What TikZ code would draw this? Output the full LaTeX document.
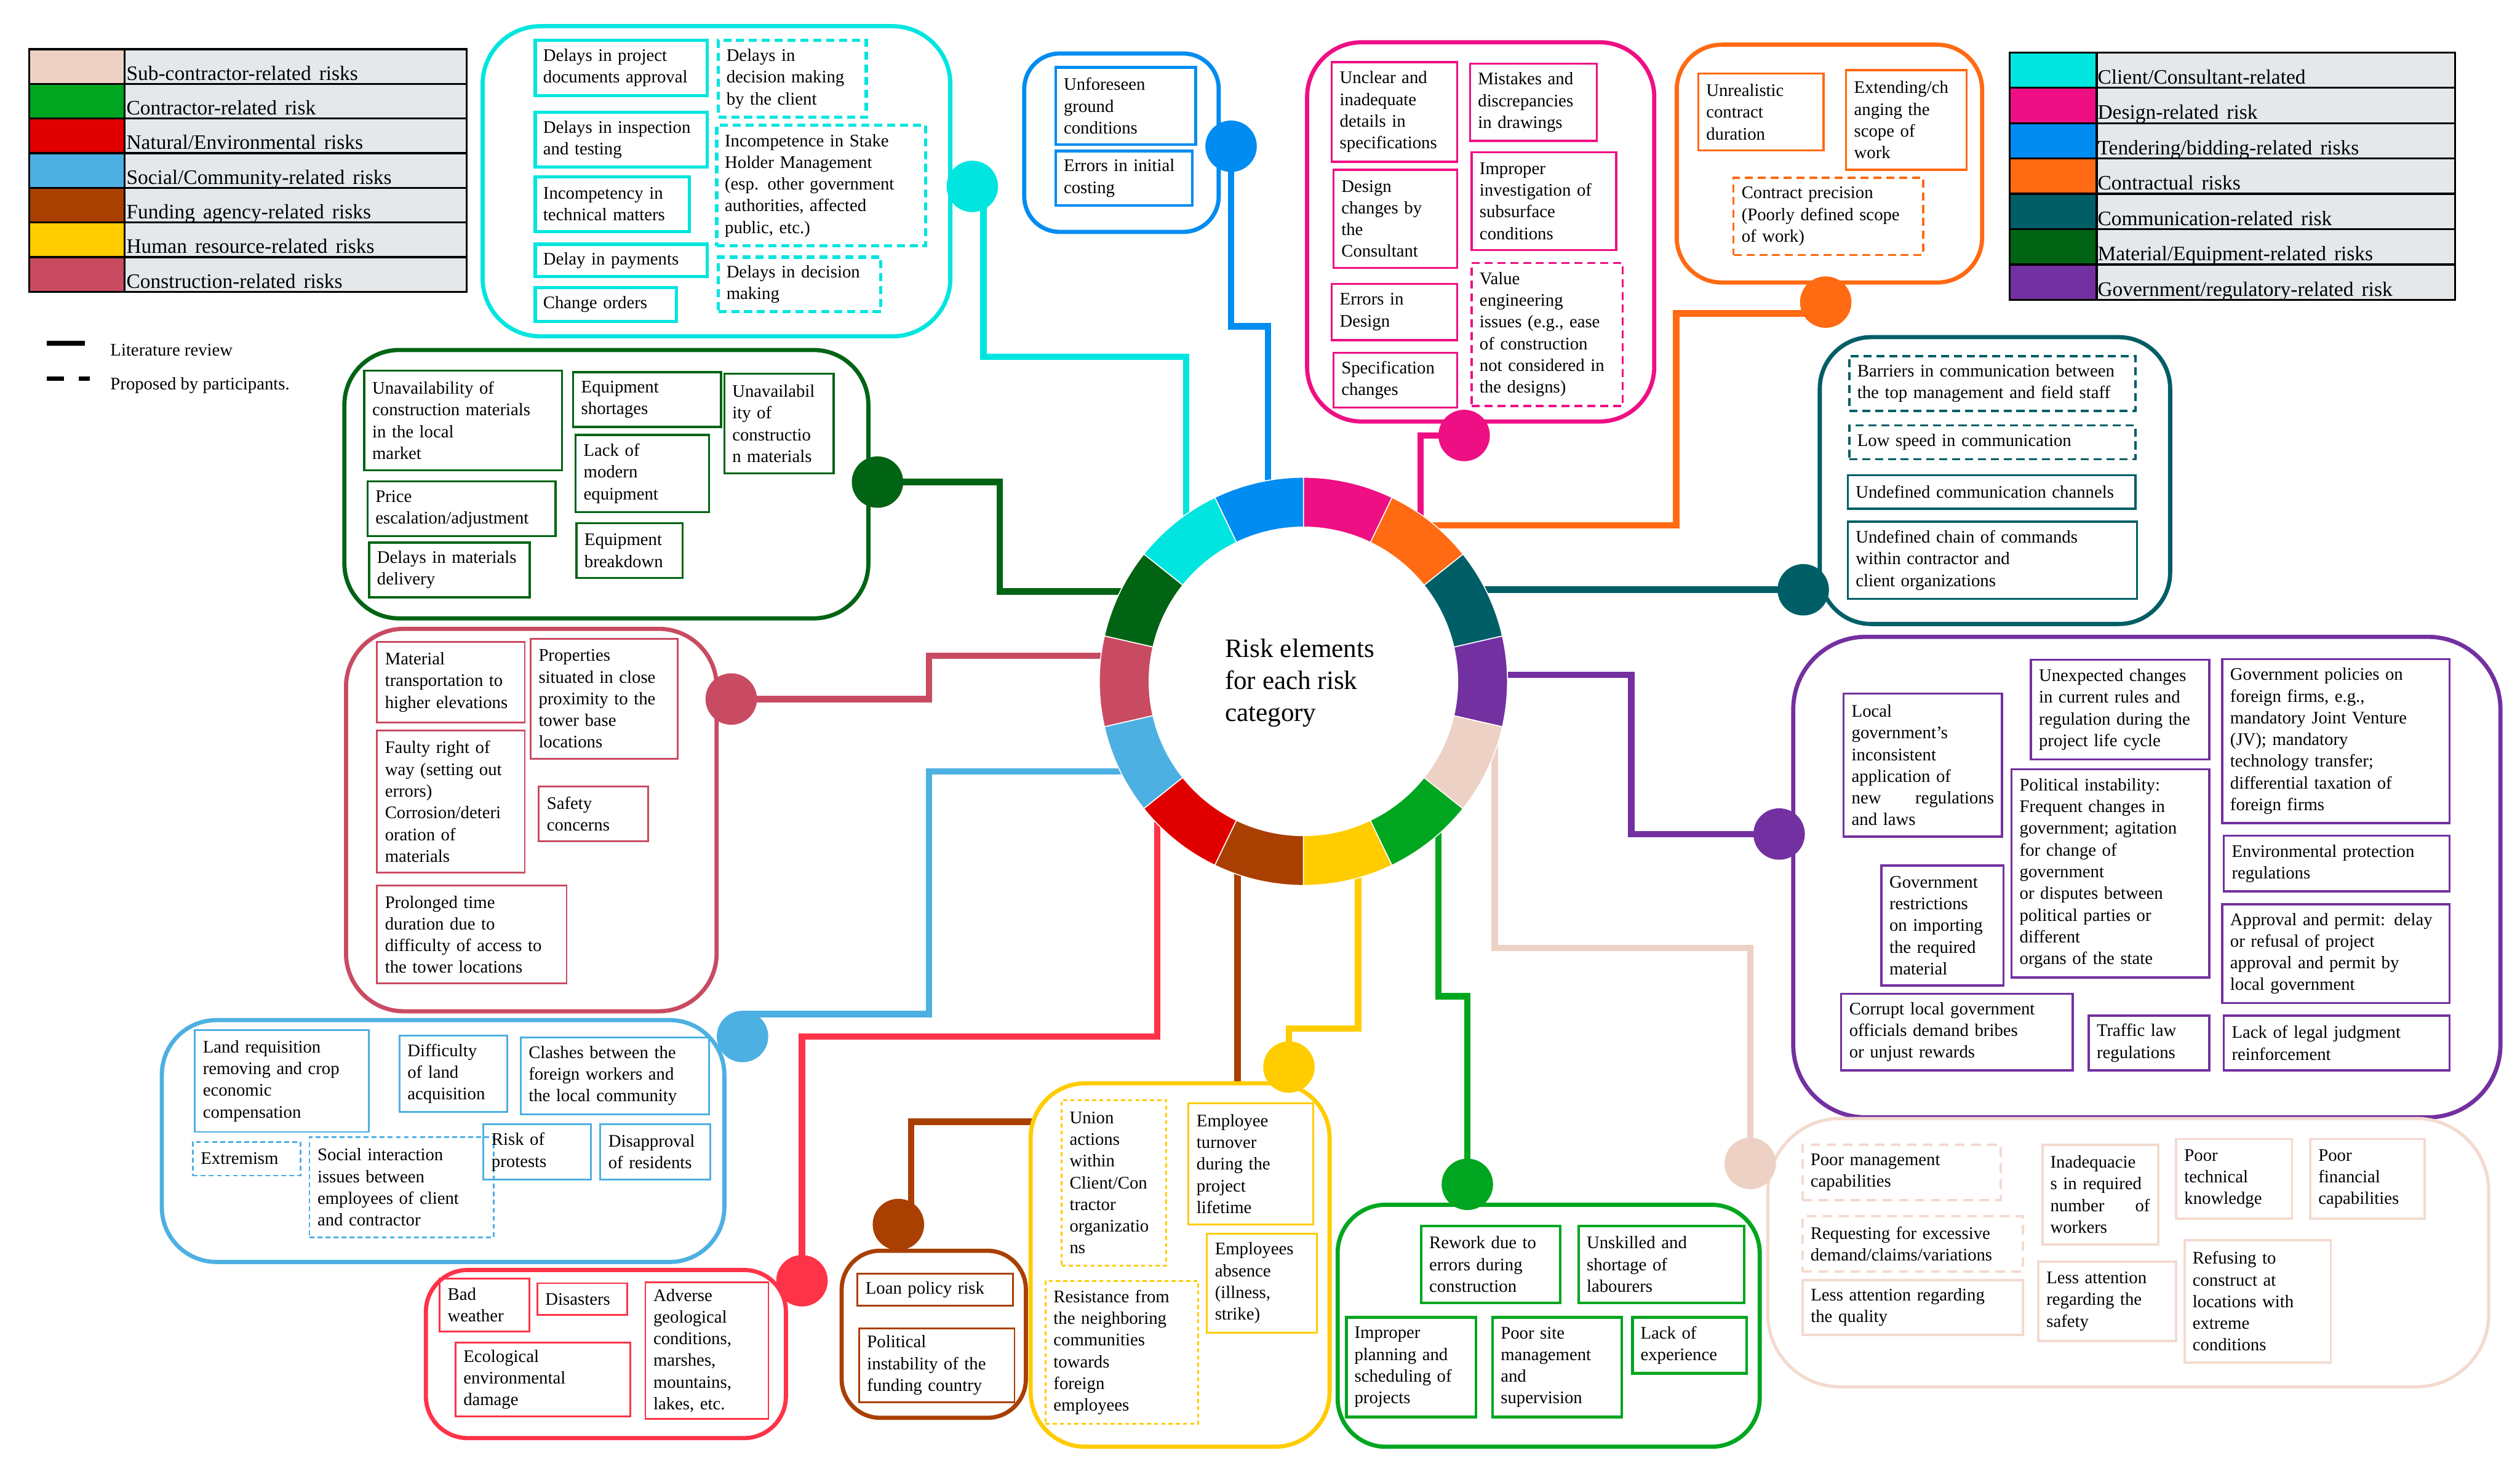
\documentclass[tikz,border=0pt]{standalone}
\usepackage{fontspec}
\setmainfont{Liberation Serif}
\usepackage{tikz}
\usetikzlibrary{calc, backgrounds}

\definecolor{clientc}{HTML}{00E5DF}
\definecolor{designc}{HTML}{EE0F84}
\definecolor{tenderc}{HTML}{008CF0}
\definecolor{contractc}{HTML}{FF6A13}
\definecolor{commc}{HTML}{005E66}
\definecolor{materialc}{HTML}{006414}
\definecolor{govc}{HTML}{7330A0}
\definecolor{subc}{HTML}{EDD1C4}
\definecolor{subline}{HTML}{F3DACF}
\definecolor{contrc}{HTML}{00A620}
\definecolor{natc}{HTML}{E10000}
\definecolor{natline}{HTML}{FF3347}
\definecolor{socialc}{HTML}{4DB0E3}
\definecolor{fundc}{HTML}{A93F00}
\definecolor{humanc}{HTML}{FFCC00}
\definecolor{constrc}{HTML}{C94B62}
\definecolor{leggray}{HTML}{E5E8EB}

\newcommand{\itemfont}{\fontsize{11}{13.5}\selectfont\hyphenpenalty=10000\exhyphenpenalty=10000}
\newcommand{\legfont}{\fontsize{12.8}{15}\selectfont\spaceskip=5pt plus 1pt minus 1pt}

\begin{document}
\begin{tikzpicture}[x=1pt, y=-1pt,
  grp/.style={draw=#1, fill=white, line width=2.6pt, rounded corners=34pt, anchor=north west, inner sep=0pt},
  item/.style={draw=#1, line width=1.3pt, anchor=north west, align=left, font=\itemfont,
               inner xsep=5pt, inner ysep=1pt},
  prop/.style={item=#1, dash pattern=on 5pt off 3pt},
  dot/.style={circle, fill=#1, inner sep=0pt, minimum size=32pt},
  link/.style={draw=#1, line width=4pt},
  swatch/.style={draw=black, line width=1.2pt, fill=#1, anchor=north west, inner sep=0pt},
  lcell/.style={draw=black, line width=1.2pt, fill=leggray, anchor=north west, inner sep=0pt},
  legtext/.style={anchor=base west, font=\legfont, inner sep=0pt},
]
\useasboundingbox (0,0) rectangle (1568,914);

%% Legends
\foreach \col/\txt [count=\i from 0] in {subc/{Sub-contractor-related risks}, contrc/{Contractor-related risk},
    natc/{Natural/Environmental risks}, socialc/{Social/Community-related risks},
    fundc/{Funding agency-related risks}, humanc/{Human resource-related risks},
    constrc/{Construction-related risks}}{
  \node[swatch=\col, minimum width=59.5pt, minimum height=21.57pt] (lsw\i) at (17.5,{30+21.57*\i}) {};
  \node[lcell, minimum width=212.6pt, minimum height=21.57pt] (lce\i) at (77,{30+21.57*\i}) {};
  \node[legtext] at ($(lce\i.south west)+(1.5,-3)$) {\txt};
}
\foreach \col/\txt [count=\i from 0] in {clientc/{Client/Consultant-related}, designc/{Design-related risk},
    tenderc/{Tendering/bidding-related risks}, contractc/{Contractual risks},
    commc/{Communication-related risk}, materialc/{Material/Equipment-related risks},
    govc/{Government/regulatory-related risk}}{
  \node[swatch=\col, minimum width=54pt, minimum height=22pt] (rsw\i) at (1250,{32+22*\i}) {};
  \node[lcell, minimum width=223pt, minimum height=22pt] (rce\i) at (1304,{32+22*\i}) {};
  \node[legtext] at ($(rce\i.south west)+(1,-3)$) {\txt};
}
\node[anchor=west, font=\fontsize{11}{13}\selectfont, inner sep=0pt] (litrev) at (68.5,218) {Literature review};
\node[anchor=west, font=\fontsize{11}{13}\selectfont, inner sep=0pt] (partic) at (68.5,240) {Proposed by participants.};
\draw[line width=3pt] ($(litrev.west)+(-39.5,-4.4)$) -- ++(24,0);
\draw[line width=3pt, dash pattern=on 11pt off 9pt] ($(partic.west)+(-39.5,-4.4)$) -- ++(27,0);

%% Client/Consultant-related
\node[grp=clientc, minimum width=291pt, minimum height=193pt, rounded corners=36pt] (clgrp) at (299,15) {};
\node[item=clientc, line width=2pt, text width=97pt, minimum height=34.5pt] (cl1) at (332,24) {Delays in project\\documents approval};
\node[prop=clientc, line width=2pt, text width=82pt, minimum height=48pt] (cl2) at (446,24) {Delays in\\decision making\\by the client};
\node[item=clientc, line width=2pt, text width=97pt, minimum height=34pt] (cl3) at (332,69) {Delays in inspection\\and testing};
\node[prop=clientc, line width=2pt, text width=120pt, minimum height=75pt] (cl4) at (445,77) {Incompetence in Stake\\Holder Management\\(esp. other government\\authorities, affected\\public, etc.)};
\node[item=clientc, line width=2pt, text width=86pt, minimum height=34pt] (cl5) at (332,109) {Incompetency in\\technical matters};
\node[item=clientc, line width=2pt, text width=97pt, minimum height=20pt] (cl6) at (332,151) {Delay in payments};
\node[item=clientc, line width=2pt, text width=78pt, minimum height=21pt] (cl7) at (332,178) {Change orders};
\node[prop=clientc, line width=2pt, text width=91pt, minimum height=34pt] (cl8) at (446,159) {Delays in decision\\making};

%% Tendering/bidding-related
\node[grp=tenderc, minimum width=121pt, minimum height=111pt, rounded corners=22pt] (tdgrp) at (636,32) {};
\node[item=tenderc, line width=1.8pt, text width=77pt, minimum height=48pt] (td1) at (656,41) {Unforeseen\\ground\\conditions};
\node[item=tenderc, line width=1.8pt, text width=75pt, minimum height=34pt] (td2) at (656,93) {Errors in initial\\costing};

%% Design-related
\node[grp=designc, minimum width=216pt, minimum height=236pt] (dsgrp) at (812,25) {};
\node[item=designc, text width=68pt, minimum height=62pt] (ds1) at (828,38) {Unclear and\\inadequate\\details in\\specifications};
\node[item=designc, text width=69pt, minimum height=48pt] (ds2) at (914,39) {Mistakes and\\discrepancies\\in drawings};
\node[item=designc, text width=67pt, minimum height=61pt] (ds3) at (829,105) {Design\\changes by\\the\\Consultant};
\node[item=designc, text width=80pt, minimum height=61pt] (ds4) at (915,94) {Improper\\investigation of\\subsurface\\conditions};
\node[item=designc, text width=68pt, minimum height=35pt] (ds5) at (828,176) {Errors in\\Design};
\node[prop=designc, text width=84pt, minimum height=89pt] (ds6) at (915,163) {Value\\engineering\\issues (e.g., ease\\of construction\\not considered in\\the designs)};
\node[item=designc, text width=67pt, minimum height=34pt] (ds7) at (829,219) {Specification\\changes};

%% Contractual
\node[grp=contractc, minimum width=190pt, minimum height=148pt, rounded corners=28pt] (ctgrp) at (1042,26.5) {};
\node[item=contractc, text width=68pt, minimum height=48pt] (ct1) at (1056,45) {Unrealistic\\contract\\duration};
\node[item=contractc, text width=65pt, minimum height=62pt] (ct2) at (1148,43) {Extending/ch\\anging the\\scope of\\work};
\node[prop=contractc, text width=108pt, minimum height=48pt] (ct3) at (1078,110) {Contract precision\\(Poorly defined scope\\of work)};

%% Communication-related
\node[grp=commc, minimum width=218pt, minimum height=178.5pt, rounded corners=32pt] (cmgrp) at (1131,208.5) {};
\node[prop=commc, text width=168pt, minimum height=34pt] (cm1) at (1150,221) {Barriers in communication between\\the top management and field staff};
\node[prop=commc, text width=168pt, minimum height=21pt] (cm2) at (1150,264) {Low speed in communication};
\node[item=commc, text width=169pt, minimum height=21pt] (cm3) at (1149,295) {Undefined communication channels};
\node[item=commc, text width=170pt, minimum height=48pt] (cm4) at (1149,324) {Undefined chain of commands\\within contractor and\\client organizations};

%% Material/Equipment-related
\node[grp=materialc, minimum width=326pt, minimum height=167pt] (mtgrp) at (213,216.5) {};
\node[item=materialc, text width=113pt, minimum height=62pt] (mt1) at (226,230) {Unavailability of\\construction materials\\in the local\\market};
\node[item=materialc, text width=82pt, minimum height=34pt] (mt2) at (356,231) {Equipment\\shortages};
\node[item=materialc, text width=58pt, minimum height=62pt] (mt3) at (450,232) {Unavailabil\\ity of\\constructio\\n materials};
\node[item=materialc, text width=107pt, minimum height=34pt] (mt4) at (228,299) {Price\\escalation/adjustment};
\node[item=materialc, text width=73pt, minimum height=48pt] (mt5) at (357.5,270) {Lack of\\modern\\equipment};
\node[item=materialc, text width=90pt, minimum height=34pt] (mt6) at (229,337) {Delays in materials\\delivery};
\node[item=materialc, text width=56pt, minimum height=34pt] (mt7) at (358,325) {Equipment\\breakdown};

%% Construction-related
\node[grp=constrc, minimum width=230.6pt, minimum height=238pt, rounded corners=36pt] (csgrp) at (214,390) {};
\node[item=constrc, line width=1.1pt, text width=82pt, minimum height=50pt] (cs1) at (234,399) {Material\\transportation to\\higher elevations};
\node[item=constrc, line width=1.1pt, text width=81.4pt, minimum height=74.6pt] (cs2) at (329.6,397) {Properties\\situated in close\\proximity to the\\tower base\\locations};
\node[item=constrc, line width=1.1pt, text width=82pt, minimum height=88.6pt] (cs3) at (234,454) {Faulty right of\\way (setting out\\errors)\\Corrosion/deteri\\oration of\\materials};
\node[item=constrc, line width=1.1pt, text width=58pt, minimum height=34pt] (cs4) at (334.7,489) {Safety\\concerns};
\node[item=constrc, line width=1.1pt, text width=108pt, minimum height=61pt] (cs5) at (234,550.5) {Prolonged time\\duration due to\\difficulty of access to\\the tower locations};

%% Government/regulatory-related
\node[grp=govc, minimum width=440pt, minimum height=299pt, rounded corners=45pt] (gvgrp) at (1114.5,395) {};
\node[item=govc, text width=88.5pt, minimum height=89pt] (gv1) at (1146.5,431) {Local\\government’s\\inconsistent\\application of\\new\hfill regulations\\and laws};
\node[item=govc, text width=101pt, minimum height=62pt] (gv2) at (1263,410) {Unexpected changes\\in current rules and\\regulation during the\\project life cycle};
\node[item=govc, text width=131.6pt, minimum height=102pt] (gv3) at (1382,409.5) {Government policies on\\foreign firms, e.g.,\\mandatory Joint Venture\\(JV); mandatory\\technology transfer;\\differential taxation of\\foreign firms};
\node[item=govc, text width=113pt, minimum height=129.6pt] (gv4) at (1251,478) {Political instability:\\Frequent changes in\\government; agitation\\for change of\\government\\or disputes between\\political parties or\\different\\organs of the state};
\node[item=govc, text width=66pt, minimum height=74.6pt] (gv5) at (1170,538) {Government\\restrictions\\on importing\\the required\\material};
\node[item=govc, text width=130.6pt, minimum height=34.5pt] (gv6) at (1383,519.5) {Environmental protection\\regulations};
\node[item=govc, text width=131.6pt, minimum height=61.5pt] (gv7) at (1382,562) {Approval and permit: delay\\or refusal of project\\approval and permit by\\local government};
\node[item=govc, text width=134pt, minimum height=47.8pt] (gv8) at (1145,617.7) {Corrupt local government\\officials demand bribes\\or unjust rewards};
\node[item=govc, text width=65pt, minimum height=34pt] (gv9) at (1299,631.4) {Traffic law\\regulations};
\node[item=govc, text width=130.6pt, minimum height=34pt] (gv10) at (1383,631.4) {Lack of legal judgment\\reinforcement};

%% Sub-contractor-related
\node[grp=subline, line width=2pt, minimum width=448.5pt, minimum height=167pt, rounded corners=45pt] (scgrp) at (1099,695) {};
\node[prop=subline, line width=1.5pt, dash pattern=on 6pt off 4pt, text width=113.2pt, minimum height=34.5pt] (sc1) at (1120.8,711.5) {Poor management\\capabilities};
\node[prop=subline, line width=1.5pt, dash pattern=on 6pt off 4pt, text width=127pt, minimum height=34.6pt] (sc2) at (1120.8,756) {Requesting for excessive\\demand/claims/variations};
\node[item=subline, line width=1.5pt, text width=127pt, minimum height=34.3pt] (sc3) at (1121,795.7) {Less attention regarding\\the quality};
\node[item=subline, line width=1.5pt, text width=62pt, minimum height=62pt] (sc4) at (1270,711.5) {Inadequacie\\s in required\\number\hfill of\\workers};
\node[item=subline, line width=1.5pt, text width=62pt, minimum height=49.7pt] (sc5) at (1353.4,708) {Poor\\technical\\knowledge};
\node[item=subline, line width=1.5pt, text width=61.2pt, minimum height=49.7pt] (sc6) at (1436.8,708) {Poor\\financial\\capabilities};
\node[item=subline, line width=1.5pt, text width=75.8pt, minimum height=49.4pt] (sc7) at (1267.6,784.4) {Less attention\\regarding the\\safety};
\node[item=subline, line width=1.5pt, text width=81pt, minimum height=76pt] (sc8) at (1358.5,771) {Refusing to\\construct at\\locations with\\extreme\\conditions};

%% Contractor-related
\node[grp=contrc, minimum width=262.6pt, minimum height=150.6pt, rounded corners=30pt] (cogrp) at (831,748.4) {};
\node[item=contrc, line width=1.6pt, text width=76.5pt, minimum height=48pt] (co1) at (883.5,762) {Rework due to\\errors during\\construction};
\node[item=contrc, line width=1.6pt, text width=93pt, minimum height=48pt] (co2) at (981.5,762) {Unskilled and\\shortage of\\labourers};
\node[item=contrc, line width=1.6pt, text width=70.6pt, minimum height=62pt] (co3) at (837,819) {Improper\\planning and\\scheduling of\\projects};
\node[item=contrc, line width=1.6pt, text width=70.4pt, minimum height=62pt] (co4) at (928,819) {Poor site\\management\\and\\supervision};
\node[item=contrc, line width=1.6pt, text width=61pt, minimum height=34.8pt] (co5) at (1015,819) {Lack of\\experience};

%% Human resource-related
\node[grp=humanc, minimum width=186pt, minimum height=226.2pt] (hrgrp) at (640,672.8) {};
\node[prop=humanc, line width=1.1pt, dash pattern=on 2.5pt off 2pt, text width=55pt, minimum height=103pt] (hr1) at (660,684) {Union\\actions\\within\\Client/Con\\tractor\\organizatio\\ns};
\node[item=humanc, line width=1.1pt, text width=67.6pt, minimum height=75.5pt] (hr2) at (739,686) {Employee\\turnover\\during the\\project\\lifetime};
\node[item=humanc, line width=1.1pt, text width=58.4pt, minimum height=61.8pt] (hr3) at (750.4,767) {Employees\\absence\\(illness,\\strike)};
\node[prop=humanc, line width=1.1pt, dash pattern=on 2.5pt off 2pt, text width=85pt, minimum height=89pt] (hr4) at (650,796.5) {Resistance from\\the neighboring\\communities\\towards\\foreign\\employees};

%% Funding agency-related
\node[grp=fundc, minimum width=114.6pt, minimum height=104pt, rounded corners=24pt] (fugrp) at (522.4,777) {};
\node[item=fundc, line width=1.1pt, text width=86.6pt, minimum height=20pt] (fu1) at (533,792) {Loan policy risk};
\node[item=fundc, line width=1.1pt, text width=86.7pt, minimum height=46pt] (fu2) at (534,826) {Political\\instability of the\\funding country};

%% Natural/Environmental
\node[grp=natline, minimum width=224pt, minimum height=104.6pt, rounded corners=26pt] (nagrp) at (263.7,789) {};
\node[item=natline, line width=1.1pt, text width=46pt, minimum height=33pt] (na1) at (273,795) {Bad\\weather};
\node[item=natline, line width=1.1pt, text width=45.8pt, minimum height=19.6pt] (na2) at (333.8,798) {Disasters};
\node[item=natline, line width=1.1pt, text width=66.6pt, minimum height=84.8pt] (na3) at (401,797.5) {Adverse\\geological\\conditions,\\marshes,\\mountains,\\lakes, etc.};
\node[item=natline, line width=1.1pt, text width=99pt, minimum height=46pt] (na4) at (282.8,835) {Ecological\\environmental\\damage};

%% Social/Community-related
\node[grp=socialc, minimum width=350pt, minimum height=150.5pt] (sogrp) at (99.4,633.5) {};
\node[item=socialc, line width=1.1pt, text width=98.3pt, minimum height=63.2pt] (so1) at (120.7,640.6) {Land requisition\\removing and crop\\economic\\compensation};
\node[item=socialc, line width=1.1pt, text width=57pt, minimum height=47.7pt] (so2) at (248,643.8) {Difficulty\\of land\\acquisition};
\node[item=socialc, line width=1.1pt, text width=107.2pt, minimum height=47.8pt] (so3) at (323.4,645) {Clashes between the\\foreign workers and\\the local community};
\node[prop=socialc, line width=1.1pt, dash pattern=on 3pt off 2pt, text width=57pt, minimum height=21pt] (so4) at (119.4,710) {Extremism};
\node[prop=socialc, line width=1.1pt, dash pattern=on 3pt off 2pt, text width=104.7pt, minimum height=62.4pt] (so5) at (192,707) {Social interaction\\issues between\\employees of client\\and contractor};
\node[item=socialc, line width=1.1pt, text width=56.7pt, minimum height=34.5pt] (so6) at (300.3,699) {Risk of\\protests};
\node[item=socialc, line width=1.1pt, text width=58.5pt, minimum height=34.5pt] (so7) at (373,699) {Disapproval\\of residents};

%% Dots on the groups
\node[dot=clientc]   (cldot) at (605,116) {};
\node[dot=tenderc]   (tddot) at (766,91) {};
\node[dot=designc]   (dsdot) at (911,271) {};
\node[dot=contractc] (ctdot) at (1136,188) {};
\node[dot=commc]     (cmdot) at (1122,367) {};
\node[dot=govc]      (gvdot) at (1107,519) {};
\node[dot=subc]      (scdot) at (1089,724) {};
\node[dot=contrc]    (codot) at (913,737) {};
\node[dot=humanc]    (hrdot) at (802,664) {};
\node[dot=fundc]     (fudot) at (559,762) {};
\node[dot=natline]   (nadot) at (499,797) {};
\node[dot=socialc]   (sodot) at (462,645) {};
\node[dot=constrc]   (csdot) at (455,435) {};
\node[dot=materialc] (mtdot) at (546,300) {};

%% Ends of the connectors on the ring
\coordinate (rcl) at (738,330);
\coordinate (rtd) at (789,305);
\coordinate (rds) at (884,322);
\coordinate (rct) at (885,327);
\coordinate (rcm) at (915,367);
\coordinate (rgv) at (930,420);
\coordinate (rsc) at (930,458);
\coordinate (rco) at (895,512);
\coordinate (rhr) at (845,540);
\coordinate (rfu) at (770,540);
\coordinate (rna) at (720,508);
\coordinate (rso) at (705,480);
\coordinate (rcs) at (690,408);
\coordinate (rmt) at (700,368);

%% Connectors (behind the group boxes)
\begin{scope}[on background layer]
\draw[link=clientc]   ($(cldot)+(7,0)$) |- (738,222) -- (rcl);
\draw[link=tenderc]   (tddot.center) |- (789,203) -- (rtd);
\draw[link=designc]   (dsdot.center) -| (rds);
\draw[link=contractc] ($(ctdot)+(0,7)$) -| (1043,327) -- (rct);
\draw[link=commc]     (cmdot.center) -- (rcm);
\draw[link=govc]      (gvdot.center) -| (1015,420) -- (rgv);
\draw[link=subc]      (scdot.center) |- (930,590) -- (rsc);
\draw[link=contrc]    (codot.center) |- (895,620) -- (rco);
\draw[link=humanc]    (hrdot.center) |- (845,640) -- (rhr);
\draw[link=fundc]     ($(fudot)+(8,0)$) |- (770,698) -- (rfu);
\draw[link=natline]   (nadot.center) |- (720,645) -- (rna);
\draw[link=socialc]   ($(sodot)+(0,-14)$) -| (578,480) -- (rso);
\draw[link=constrc]   (csdot.center) -| (578,408) -- (rcs);
\draw[link=materialc] (mtdot.center) -| (622,368) -- (rmt);
\end{scope}

%% Ring of categories
\begin{scope}[shift={(811,424)}, y=1pt]
  \foreach \col [count=\i from 0] in {govc,commc,contractc,designc,tenderc,clientc,materialc,
                                      constrc,socialc,natc,fundc,humanc,contrc,subc}
    \filldraw[fill=\col, draw=white, line width=0.6pt]
      ({-12.857+25.714*\i}:127) arc[start angle={-12.857+25.714*\i}, delta angle=25.714, radius=127]
      -- ({12.857+25.714*\i}:96) arc[start angle={12.857+25.714*\i}, delta angle=-25.714, radius=96] -- cycle;
\end{scope}
\node[anchor=west, align=left, font=\fontsize{16.5}{20}\selectfont, inner sep=0pt] (centre) at (762,425)
  {Risk elements\\for each risk\\category};
\end{tikzpicture}
\end{document}
